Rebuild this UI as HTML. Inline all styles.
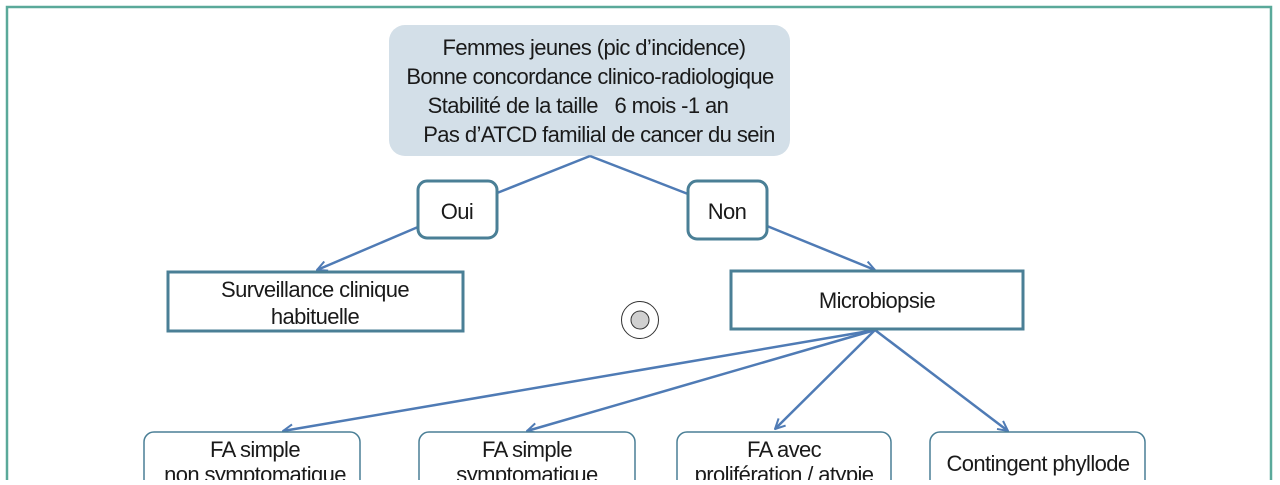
<!DOCTYPE html>
<html><head><meta charset="utf-8"><style>
body{margin:0;background:#fff;}
svg text{font-family:"Liberation Sans",Arial,sans-serif;fill:#1a1a1a;letter-spacing:-0.6px;font-size:22px;}
</style></head><body>
<svg width="1280" height="480" viewBox="0 0 1280 480" xmlns="http://www.w3.org/2000/svg">
<defs>
<marker id="a" viewBox="0 0 12 12" refX="11" refY="6" markerWidth="12" markerHeight="12" markerUnits="userSpaceOnUse" orient="auto">
<path d="M1,1 L11,6 L1,11" fill="none" stroke="#4f7bb5" stroke-width="2"/>
</marker>
</defs>
<rect x="7" y="7" width="1264" height="480" fill="none" stroke="#5aa99a" stroke-width="2.5"/>
<rect x="389" y="25" width="401" height="131" rx="16" fill="#d3dfe8"/>
<g text-anchor="middle" style="font-size:21.5px">
<text x="594" y="55">Femmes jeunes (pic d’incidence)</text>
<text x="590" y="84">Bonne concordance clinico-radiologique</text>
<text x="578" y="113">Stabilité de la taille&#160;&#160; 6 mois&#160;-1 an</text>
<text x="599" y="142">Pas d’ATCD familial de cancer du sein</text>
</g>
<g stroke="#4f7bb5" stroke-width="2.5" fill="none">
<line x1="590" y1="156" x2="497" y2="193"/>
<line x1="590" y1="156" x2="688" y2="194"/>
<line x1="418" y1="227" x2="317" y2="270" marker-end="url(#a)"/>
<line x1="767" y1="226" x2="875" y2="270" marker-end="url(#a)"/>
<line x1="875" y1="330" x2="283" y2="431" marker-end="url(#a)"/>
<line x1="875" y1="330" x2="527" y2="431" marker-end="url(#a)"/>
<line x1="875" y1="330" x2="775" y2="429" marker-end="url(#a)"/>
<line x1="875" y1="330" x2="1008" y2="431" marker-end="url(#a)"/>
</g>
<rect x="418" y="181" width="79" height="57" rx="9" fill="#fff" stroke="#4a7f96" stroke-width="3"/>
<rect x="688" y="181" width="79" height="58" rx="9" fill="#fff" stroke="#4a7f96" stroke-width="3"/>
<text x="457" y="219" text-anchor="middle">Oui</text>
<text x="727" y="219" text-anchor="middle">Non</text>
<rect x="168" y="272" width="295" height="59" fill="#fff" stroke="#4a7f96" stroke-width="3"/>
<text x="315" y="297" text-anchor="middle">Surveillance clinique</text>
<text x="315" y="324" text-anchor="middle">habituelle</text>
<rect x="731" y="271" width="292" height="58" fill="#fff" stroke="#4a7f96" stroke-width="3"/>
<text x="877" y="308" text-anchor="middle">Microbiopsie</text>
<circle cx="640" cy="320" r="18.5" fill="#fff" stroke="#333" stroke-width="1"/>
<circle cx="640" cy="320" r="9" fill="#d0d0d0" stroke="#333" stroke-width="1"/>
<g fill="#fff" stroke="#4a7f96" stroke-width="1.5">
<rect x="144" y="432" width="216" height="70" rx="10"/>
<rect x="419" y="432" width="216" height="70" rx="10"/>
<rect x="677" y="432" width="214" height="70" rx="10"/>
<rect x="930" y="432" width="215" height="70" rx="10"/>
</g>
<g text-anchor="middle">
<text x="255" y="457">FA simple</text>
<text x="255" y="482">non symptomatique</text>
<text x="527" y="457">FA simple</text>
<text x="527" y="482">symptomatique</text>
<text x="784" y="457">FA avec</text>
<text x="784" y="482">prolifération / atypie</text>
<text x="1038" y="471">Contingent phyllode</text>
</g>
</svg>
</body></html>
